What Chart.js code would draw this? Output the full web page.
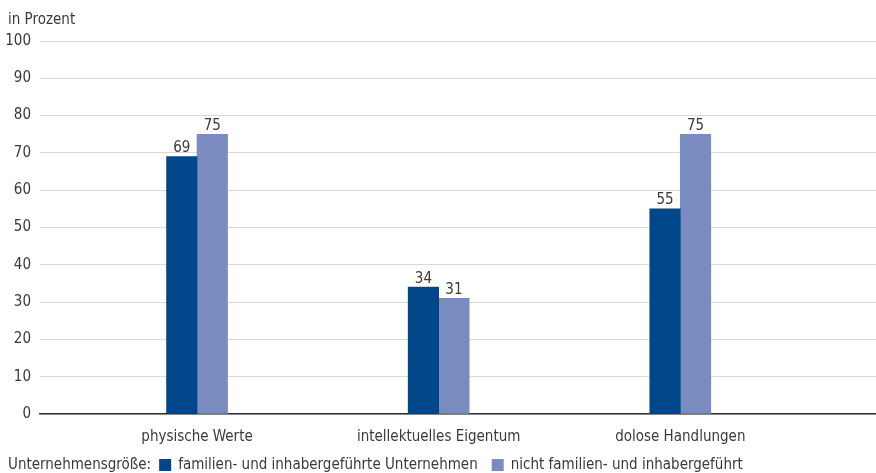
<!DOCTYPE html>
<html lang="de">
<head>
<meta charset="utf-8">
<title>Betroffene Werte</title>
<script src="https://cdn.jsdelivr.net/npm/chart.js@4/dist/chart.umd.min.js"></script>
<style>
    html, body { margin: 0; padding: 0; background: #fff; }
    #wrap { position: relative; width: 876px; height: 473px; }
</style>
</head>
<body>
<div id="wrap"><canvas id="chart"></canvas></div>
<script>
'use strict';

const categories = ['physische Werte', 'intellektuelles Eigentum', 'dolose Handlungen'];
const familyOwned = [69, 34, 55];
const notFamilyOwned = [75, 31, 75];
const yTicks = [0, 10, 20, 30, 40, 50, 60, 70, 80, 90, 100];
const seriesNames = ['familien- und inhabergeführte Unternehmen', 'nicht familien- und inhabergeführt'];
const legendPrefix = 'Unternehmensgröße:';
const unitLabel = 'in Prozent';

const FONT = "'Liberation Sans Narrow', 'DejaVu Sans Condensed', sans-serif";
const TEXT = '#3a3a3a';

Chart.defaults.font.family = FONT;
Chart.defaults.font.size = 15;
Chart.defaults.color = TEXT;

function toPoints(values) {
    return values.map((v, i) => ({ x: i + 1, y: v }));
}

// numbers over each bar
const valueLabels = {
    id: 'valueLabels',
    afterDatasetsDraw(chart) {
        const ctx = chart.ctx;
        ctx.save();
        ctx.font = '15px ' + FONT;
        ctx.fillStyle = TEXT;
        ctx.textAlign = 'center';
        ctx.textBaseline = 'bottom';
        chart.data.datasets.forEach((ds, di) => {
            chart.getDatasetMeta(di).data.forEach((bar, i) => {
                ctx.fillText(String(ds.data[i].y), bar.x, bar.y - 1);
            });
        });
        ctx.restore();
    }
};

// unit above the y axis and the legend line at the bottom
const extras = {
    id: 'extras',
    afterDraw(chart) {
        const ctx = chart.ctx;
        ctx.save();
        ctx.font = '15px ' + FONT;
        ctx.fillStyle = TEXT;
        ctx.textBaseline = 'middle';
        ctx.textAlign = 'left';
        ctx.fillText(unitLabel, 8, 20);

        const y = 465;
        let x = 8;
        ctx.fillText(legendPrefix, x, y);
        x += ctx.measureText(legendPrefix).width + 8;
        chart.data.datasets.forEach((ds) => {
            ctx.fillStyle = ds.backgroundColor;
            ctx.fillRect(x, y - 6, 12, 12);
            x += 19;
            ctx.fillStyle = TEXT;
            ctx.fillText(ds.label, x, y);
            x += ctx.measureText(ds.label).width + 14;
        });
        ctx.restore();
    }
};

new Chart(document.getElementById('chart'), {
    type: 'bar',
    data: {
        datasets: [{
            label: seriesNames[0],
            data: toPoints(familyOwned),
            backgroundColor: '#00468b',
            barThickness: 30.5
        }, {
            label: seriesNames[1],
            data: toPoints(notFamilyOwned),
            backgroundColor: '#7a8bbf',
            barThickness: 30.5
        }]
    },
    options: {
        responsive: true,
        maintainAspectRatio: false,
        animation: false,
        layout: { padding: { top: 41, right: 0, bottom: 29, left: 0 } },
        plugins: {
            legend: { display: false },
            tooltip: { enabled: false }
        },
        scales: {
            x: {
                type: 'linear',
                offset: false,
                min: 0.35,
                max: 3.81,
                grid: { display: false, drawTicks: false },
                border: { display: true, color: '#333', width: 1.5 },
                afterBuildTicks(scale) {
                    scale.ticks = categories.map((c, i) => ({ value: i + 1 }));
                },
                afterFit(scale) { scale.height = 30; },
                ticks: {
                    padding: 14,
                    maxRotation: 0,
                    autoSkip: false,
                    callback: (v) => categories[v - 1]
                }
            },
            y: {
                min: 0,
                max: 100,
                afterBuildTicks(scale) {
                    scale.ticks = yTicks.map((v) => ({ value: v }));
                },
                afterFit(scale) { scale.width = 40; },
                grid: { color: '#d9d9d9', lineWidth: 1, drawTicks: false },
                border: { display: false },
                ticks: { padding: 9 }
            }
        }
    },
    plugins: [valueLabels, extras]
});
</script>
</body>
</html>
